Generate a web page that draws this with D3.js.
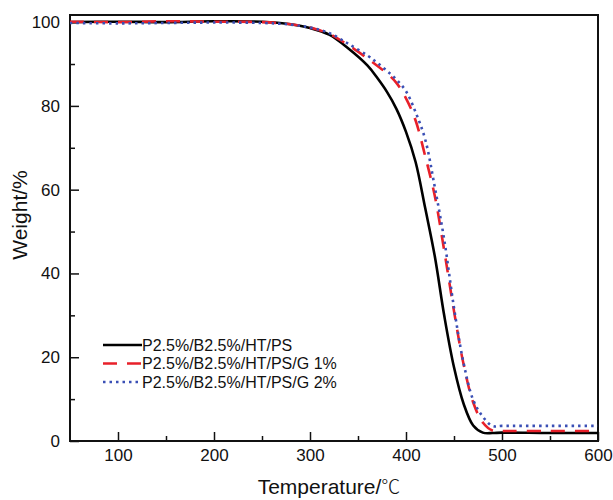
<!DOCTYPE html>
<html>
<head>
<meta charset="utf-8">
<script src="https://cdn.jsdelivr.net/npm/d3@7"></script>
<style>
  body { margin: 0; background: #fff; }
  svg text { font-family: "Liberation Sans", Arial, sans-serif; fill: #111; }
</style>
</head>
<body>
<div id="okvir"></div>
<script>
// temperature grid (°C) shared by the three curves
const temperature = [50, 100, 150, 200, 250, 280, 300, 320, 340, 360, 370, 380, 390, 400, 410, 420, 430, 440, 450, 460, 470, 480, 490, 500, 550, 600];

// weight %
const weightPS = [100.0, 100.1, 100.0, 100.2, 100.1, 99.5, 98.6, 97.0, 93.7, 89.6, 86.7, 83.4, 79.3, 73.8, 66.6, 55.6, 44.1, 29.7, 17.6, 8.9, 3.7, 2.0, 1.9, 2.0, 1.9, 1.9];
const weightG1 = [100.1, 100.0, 100.2, 100.1, 100.0, 99.5, 98.7, 97.2, 94.5, 91.3, 89.6, 87.8, 85.5, 81.8, 76.5, 68.0, 58.5, 45.2, 31.0, 18.3, 9.2, 4.4, 2.5, 2.4, 2.4, 2.4];
const weightG2 = [99.8, 99.7, 99.8, 99.9, 99.8, 99.4, 98.7, 97.4, 94.8, 92.0, 90.3, 88.4, 86.3, 83.5, 78.5, 72.0, 60.6, 47.8, 31.8, 18.6, 9.8, 5.8, 3.6, 3.6, 3.6, 3.6];

const seriesNames = ["P2.5%/B2.5%/HT/PS", "P2.5%/B2.5%/HT/PS/G 1%", "P2.5%/B2.5%/HT/PS/G 2%"];

const xMajor = [100, 200, 300, 400, 500, 600];
const xMinor = [150, 250, 350, 450, 550];
const yMajor = [0, 20, 40, 60, 80, 100];
const yMinor = [10, 30, 50, 70, 90];

// dimenzije
const dim = { sirina: 613, visina: 500, left: 70, right: 598, top: 15, bottom: 441 };

const svg = d3.select("#okvir").append("svg")
    .attr("width", dim.sirina)
    .attr("height", dim.visina);

const x = d3.scaleLinear().domain([50, 600]).range([dim.left, dim.right]);
const y = d3.scaleLinear().domain([0, 101.7]).range([dim.bottom, dim.top]);

// osi
svg.append("g")
    .attr("transform", `translate(0,${dim.bottom})`)
    .call(d3.axisBottom(x).tickValues(xMajor).tickSize(-9).tickPadding(8).tickFormat(d3.format("d")));
svg.append("g")
    .attr("transform", `translate(0,${dim.bottom})`)
    .call(d3.axisBottom(x).tickValues(xMinor).tickSize(-5).tickFormat(""));

svg.append("g")
    .attr("transform", `translate(${dim.left},0)`)
    .call(d3.axisLeft(y).tickValues(yMajor).tickSize(-9).tickPadding(10).tickFormat(d3.format("d")));
svg.append("g")
    .attr("transform", `translate(${dim.left},0)`)
    .call(d3.axisLeft(y).tickValues(yMinor).tickSize(-5).tickFormat(""));

svg.selectAll(".domain").remove();
svg.selectAll(".tick line").attr("stroke", "#111").attr("stroke-width", 1.5);
svg.selectAll(".tick text").style("font-size", "17px").attr("fill", "#111");

// okvir
svg.append("rect")
    .attr("x", dim.left).attr("y", dim.top)
    .attr("width", dim.right - dim.left).attr("height", dim.bottom - dim.top)
    .attr("fill", "none").attr("stroke", "#111").attr("stroke-width", 2);

// krivulje
const series = [
  { name: seriesNames[0], vals: weightPS, color: "#000000", dash: null, width: 2.6 },
  { name: seriesNames[1], vals: weightG1, color: "#e8202a", dash: "14,10", width: 2.6 },
  { name: seriesNames[2], vals: weightG2, color: "#3a4fb5", dash: "2.5,4", width: 2.6 }
];

const line = d3.line()
    .x(d => x(d[0]))
    .y(d => y(d[1]))
    .curve(d3.curveCatmullRom.alpha(0.5));

series.forEach(s => {
  const pts = temperature.map((t, i) => [t, s.vals[i]]);
  svg.append("path")
      .datum(pts)
      .attr("fill", "none")
      .attr("stroke", s.color)
      .attr("stroke-width", s.width)
      .attr("stroke-dasharray", s.dash)
      .attr("d", line);
});

// legenda
const leg = svg.append("g");
series.forEach((s, i) => {
  const ly = 345 + i * 18.5;
  leg.append("line")
      .attr("x1", 103).attr("x2", 142)
      .attr("y1", ly).attr("y2", ly)
      .attr("stroke", s.color)
      .attr("stroke-width", s.width)
      .attr("stroke-dasharray", s.dash);
  leg.append("text")
      .attr("x", 142).attr("y", ly + 5.5)
      .style("font-size", "16px")
      .text(s.name);
});

// naslovi osi
const xNaslov = svg.append("text")
    .attr("x", 329).attr("y", 494)
    .attr("text-anchor", "middle")
    .style("font-size", "21px");
xNaslov.append("tspan").text("Temperature/");
xNaslov.append("tspan").style("font-family", "'Noto Sans CJK SC'").style("font-weight", "300").style("font-size", "19px").text("℃");

svg.append("text")
    .attr("transform", "translate(27,215) rotate(-90)")
    .attr("text-anchor", "middle")
    .style("font-size", "21px")
    .text("Weight/%");
</script>
</body>
</html>
